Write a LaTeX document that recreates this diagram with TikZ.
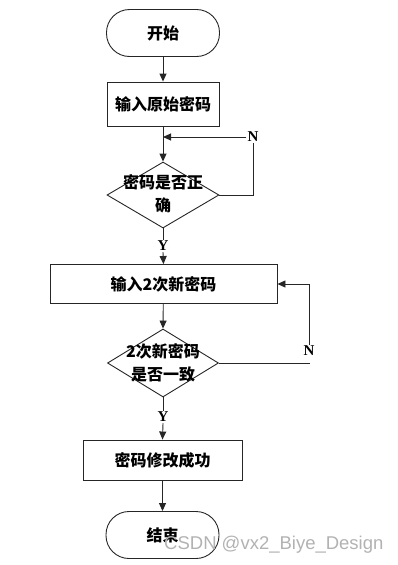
\documentclass[tikz,border=0pt]{standalone}
\usepackage{fontspec}
\setmainfont{Liberation Serif}
\newfontfamily\cjk{Noto Sans CJK SC}
\newfontfamily\wmfont{Liberation Sans}
\usetikzlibrary{shapes.geometric,arrows.meta,calc}
\tikzset{
  flow/.style={draw=black!85, line width=0.9pt},
  arr/.style={flow, -{Triangle[length=8pt,width=7pt]}},
  term/.style={draw=black!85, line width=0.9pt, rectangle, rounded corners=23pt, minimum width=113pt, minimum height=47pt, inner sep=0pt, font=\cjk\fontsize{16}{19}\selectfont\bfseries},
  procbox/.style={draw=black!85, line width=0.9pt, rectangle, inner sep=0pt, font=\cjk\fontsize{16}{19}\selectfont\bfseries},
  decide/.style={draw=black!85, line width=0.9pt, diamond, inner sep=0pt},
  dtext/.style={align=center, inner sep=0pt, font=\cjk\fontsize{16}{23}\selectfont\bfseries},
  yn/.style={inner sep=1pt, font=\fontsize{15}{17}\selectfont\bfseries},
}
\begin{document}
\begin{tikzpicture}[x=1pt,y=-1pt]
\useasboundingbox (0,0) rectangle (397,565);
\node[term] (start) at (163,33) {开始};
\node[procbox, minimum width=112pt, minimum height=44pt] (b1) at (163,104) {输入原始密码};
\coordinate (j1) at (163,137);
\node[decide, minimum width=112pt, minimum height=66pt] (d1) at (163,195) {};
\node[dtext] (d1t) at (163,194) {密码是否正\\确};
\node[yn] (n1) at (253,137) {N};
\node[yn] (y1) at (163,246) {Y};
\node[procbox, minimum width=227pt, minimum height=39pt] (b2) at (163.5,284) {输入2次新密码};
\node[decide, minimum width=111pt, minimum height=68pt] (d2) at (163,363) {};
\node[dtext] (d2t) at (163,363) {2次新密码\\是否一致};
\node[yn] (n2) at (309,351) {N};
\node[yn] (y2) at (163,417) {Y};
\node[procbox, minimum width=159pt, minimum height=40pt] (b3) at (162.5,460) {密码修改成功};
\node[term] (end) at (162.5,535) {结束};
\node[text=gray!60, font=\wmfont\fontsize{18.5}{20}\selectfont, anchor=west, inner sep=0pt] (wm) at (164,545) {CSDN @vx2\_Biye\_Design};

\draw[arr] (start) -- (b1);
\draw[flow] (b1) -- (j1);
\draw[arr] (j1) -- (d1.north);
\draw[flow] (d1.east) -- (n1 |- d1.east) -- (n1.south);
\draw[arr] (n1.west) -- (j1);
\draw[flow] (d1.south) -- (y1.north);
\draw[arr] (y1.south) -- (b2.north);
\draw[arr] (b2) -- (d2.north);
\draw[flow] (d2.east) -- ($(n2 |- d2.east)+(1,0)$);
\draw[arr] (n2.north) -- (n2 |- b2.east) -- (b2.east);
\draw[flow] (d2.south) -- (y2.north);
\draw[arr] (y2.south) -- (b3.north);
\draw[arr] (b3) -- (end);
\end{tikzpicture}
\end{document}
